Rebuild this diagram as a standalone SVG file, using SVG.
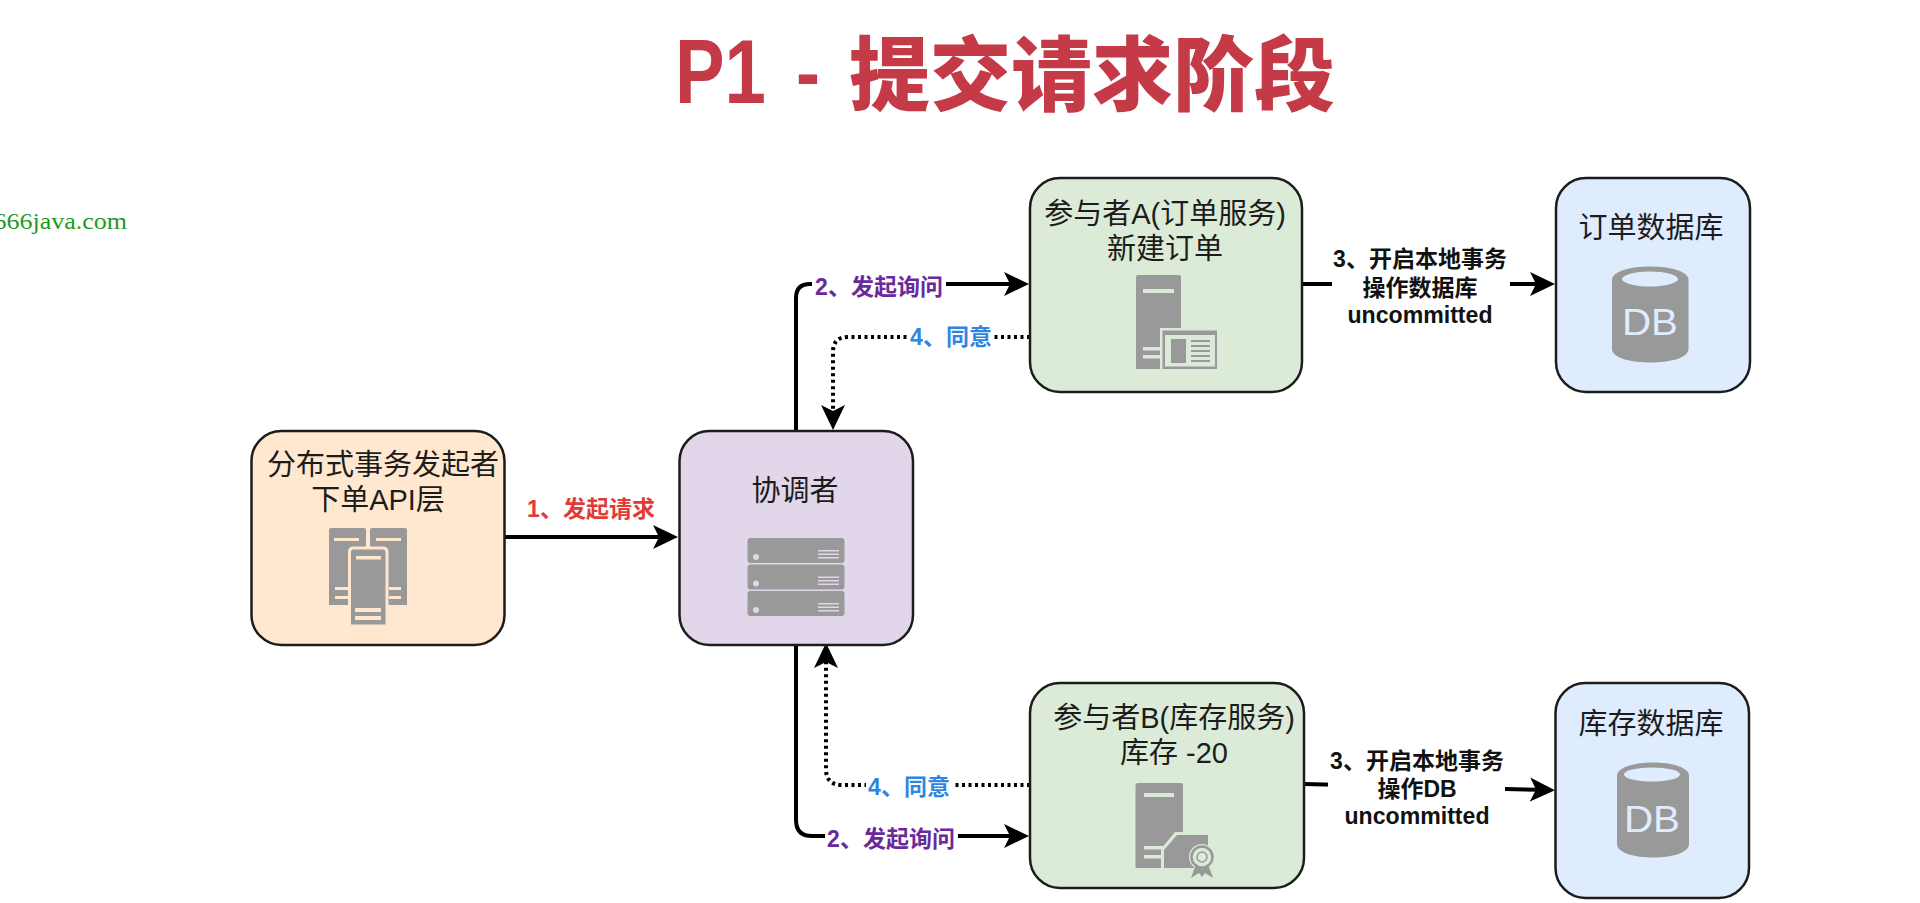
<svg xmlns="http://www.w3.org/2000/svg" width="1920" height="903" viewBox="0 0 1920 903">
<style>
text{font-family:"Liberation Sans","Noto Sans CJK SC",sans-serif}
.box{stroke:#1c1c1c;stroke-width:2.5}
.n{font-size:29px;fill:#1c1c1c;text-anchor:middle}
.e{font-size:23px;font-weight:700;text-anchor:middle}
.k{fill:#111}.p{fill:#6a2a9c}.b{fill:#2f86e0}.r{fill:#e23a36}
.ic{fill:#999}
.line{fill:none;stroke:#000;stroke-width:4}
.dot{stroke-dasharray:3 3.5}
.bg{fill:#fff}
</style>
<defs>
<marker id="arrow" markerUnits="userSpaceOnUse" markerWidth="26" markerHeight="26" viewBox="0 -13 26 26" refX="19" refY="0" orient="auto">
<path d="M0,-12 L25,0 L0,12 L6,0 Z" fill="#000"/>
</marker>
</defs>
<rect width="1920" height="903" fill="#fff"/>
<text x="675" y="103" font-size="90" font-weight="700" fill="#c43a47"><tspan textLength="91" lengthAdjust="spacingAndGlyphs">P1</tspan><tspan x="796" y="100" font-size="80" textLength="24" lengthAdjust="spacingAndGlyphs">-</tspan><tspan x="849" y="104" font-size="81" font-weight="900">提交请求阶段</tspan></text>
<text x="-6.6" y="229" font-size="24" fill="#1f9a1f" style="font-family:'Liberation Serif',serif" textLength="133.6" lengthAdjust="spacingAndGlyphs">666java.com</text>

<g id="connectors">
<path class="line" marker-end="url(#arrow)" d="M505,537 H672"/>
<path class="line" marker-end="url(#arrow)" d="M796,431 V298 Q796,284 810,284 H1023"/>
<path class="line dot" marker-end="url(#arrow)" d="M1030,337 H848 Q833,337 833,352 V424"/>
<path class="line" marker-end="url(#arrow)" d="M796,645 V820 Q796,836 812,836 H1023"/>
<path class="line dot" marker-end="url(#arrow)" d="M1030,785 H842 Q826,785 826,769 V649"/>
<path class="line" marker-end="url(#arrow)" d="M1302,284 H1549"/>
<path class="line" marker-end="url(#arrow)" d="M1304,784 L1549,790"/>
</g>

<g id="label-1"><text class="e r" x="591" y="517">1、发起请求</text></g>
<g id="label-2a"><rect class="bg" x="812" y="270" width="134" height="30"/><text class="e p" x="879" y="295">2、发起询问</text></g>
<g id="label-4a"><rect class="bg" x="908" y="323" width="86" height="30"/><text class="e b" x="951" y="345">4、同意</text></g>
<g id="label-2b"><rect class="bg" x="825" y="822" width="133" height="30"/><text class="e p" x="891" y="847">2、发起询问</text></g>
<g id="label-4b"><rect class="bg" x="866" y="771" width="86" height="30"/><text class="e b" x="909" y="795">4、同意</text></g>
<g id="label-3a"><rect class="bg" x="1332" y="245" width="178" height="84"/>
<text class="e k" x="1420" y="267">3、开启本地事务</text><text class="e k" x="1420" y="296">操作数据库</text><text class="e k" x="1420" y="323" textLength="145" lengthAdjust="spacingAndGlyphs">uncommitted</text></g>
<g id="label-3b"><rect class="bg" x="1328" y="748" width="177" height="84"/>
<text class="e k" x="1417" y="769">3、开启本地事务</text><text class="e k" x="1417" y="797">操作DB</text><text class="e k" x="1417" y="824" textLength="145" lengthAdjust="spacingAndGlyphs">uncommitted</text></g>

<g id="initiator">
<rect class="box" x="251.500" y="431" width="253" height="214" rx="30" fill="#ffe8cf"/>
<text class="n" x="383" y="475">分布式事务发起者</text>
<text class="n" x="378" y="510">下单API层</text>
<g class="ic">
<path d="M331,528 H364 Q366,528 366,530 V605 H329 V530 Q329,528 331,528 Z"/>
<path d="M372,528 H405 Q407,528 407,530 V605 H370 V530 Q370,528 372,528 Z"/>
<path d="M353,548 H383 Q387,548 387,552 V626 H349.500 V552 Q349.500,548 353,548 Z" stroke="#ffe8cf" stroke-width="3"/>
</g>
<g fill="#ffe8cf">
<rect x="334" y="538" width="25" height="3"/><rect x="376" y="538" width="25" height="3"/>
<rect x="356" y="556" width="25" height="3.500"/>
<rect x="335" y="587" width="13" height="3"/><rect x="335" y="596" width="13" height="3"/>
<rect x="389" y="587" width="12" height="3"/><rect x="389" y="596" width="12" height="3"/>
<rect x="355" y="608" width="26" height="4"/><rect x="355" y="616" width="26" height="4"/>
</g>
</g>

<g id="coordinator">
<rect class="box" x="679.500" y="431" width="233.500" height="214" rx="30" fill="#e1d6ea"/>
<text class="n" x="795" y="501">协调者</text>
<g class="ic">
<rect x="747.500" y="538" width="97" height="25" rx="3"/>
<rect x="747.500" y="564.500" width="97" height="25" rx="3"/>
<rect x="747.500" y="591" width="97" height="25" rx="3"/>
</g>
<g fill="#e1d6ea">
<circle cx="756" cy="557" r="3"/><circle cx="756" cy="583.500" r="3"/><circle cx="756" cy="610" r="3"/>
<rect x="818" y="550" width="21" height="1.500"/><rect x="818" y="553.500" width="21" height="1.500"/><rect x="818" y="557" width="21" height="1.500"/>
<rect x="818" y="576.500" width="21" height="1.500"/><rect x="818" y="580" width="21" height="1.500"/><rect x="818" y="583.500" width="21" height="1.500"/>
<rect x="818" y="603" width="21" height="1.500"/><rect x="818" y="606.500" width="21" height="1.500"/><rect x="818" y="610" width="21" height="1.500"/>
</g>
</g>

<g id="participant-a">
<rect class="box" x="1030" y="178" width="272" height="214" rx="30" fill="#dbebd7"/>
<text class="n" x="1165" y="224">参与者A(订单服务)</text>
<text class="n" x="1165" y="259">新建订单</text>
<path class="ic" d="M1138,275 H1179 Q1181,275 1181,277 V369 H1136 V277 Q1136,275 1138,275 Z"/>
<g fill="#dbebd7">
<rect x="1143" y="289" width="31" height="4"/>
<rect x="1143" y="347" width="20" height="3.500"/><rect x="1143" y="355" width="20" height="3.500"/>
<rect x="1160" y="328" width="59" height="43"/>
</g>
<rect class="ic" x="1162.500" y="330.500" width="54.500" height="38.500"/>
<rect x="1165" y="335" width="50" height="31.500" fill="#dbebd7"/>
<rect class="ic" x="1171" y="339" width="15" height="24"/>
<g class="ic"><rect x="1191" y="340" width="19" height="2"/><rect x="1191" y="345" width="19" height="2"/><rect x="1191" y="350" width="19" height="2"/><rect x="1191" y="355" width="19" height="2"/><rect x="1191" y="360" width="19" height="2"/></g>
</g>

<g id="db-a">
<rect class="box" x="1556" y="178" width="194" height="214" rx="30" fill="#deecfd"/>
<text class="n" x="1651" y="238">订单数据库</text>
<path class="ic" d="M1612,280 C1612,262 1688.500,262 1688.500,280 V349 C1688.500,367 1612,367 1612,349 Z"/>
<ellipse cx="1650" cy="279" rx="28" ry="7.500" fill="#deecfd"/>
<text x="1650" y="335" font-size="37" text-anchor="middle" fill="#deecfd" textLength="56" lengthAdjust="spacingAndGlyphs">DB</text>
</g>

<g id="participant-b">
<rect class="box" x="1030" y="683" width="274" height="205" rx="30" fill="#dbebd7"/>
<text class="n" x="1174" y="728">参与者B(库存服务)</text>
<text class="n" x="1174" y="763">库存 -20</text>
<path class="ic" d="M1138,783 H1181 Q1183,783 1183,785 V868 H1135.500 V785 Q1135.500,783 1138,783 Z"/>
<g fill="#dbebd7">
<rect x="1144" y="793" width="30" height="4"/>
<rect x="1144" y="846" width="20" height="3.500"/><rect x="1144" y="855" width="20" height="3.500"/>
<path d="M1175,832 H1210 V871 H1161 V849 Z"/>
</g>
<path class="ic" d="M1177,835 H1208 V868 H1164 V850 Z"/>
<circle cx="1202" cy="857" r="13" fill="#dbebd7"/>
<path class="ic" d="M1191,878 L1196,864 H1208 L1213,878 L1205,873 L1202,877 L1199,873 Z"/>
<circle cx="1202" cy="857" r="10.500" fill="#dbebd7" stroke="#999" stroke-width="2.500"/>
<circle cx="1202" cy="857" r="5" fill="none" stroke="#999" stroke-width="1.500"/>
</g>

<g id="db-b">
<rect class="box" x="1555.500" y="683" width="193.500" height="215" rx="30" fill="#deecfd"/>
<text class="n" x="1651" y="734">库存数据库</text>
<path class="ic" d="M1617,776 C1617,758 1689,758 1689,776 V844 C1689,862 1617,862 1617,844 Z"/>
<ellipse cx="1652" cy="774.500" rx="28" ry="7" fill="#deecfd"/>
<text x="1652" y="832" font-size="37" text-anchor="middle" fill="#deecfd" textLength="56" lengthAdjust="spacingAndGlyphs">DB</text>
</g>
</svg>
